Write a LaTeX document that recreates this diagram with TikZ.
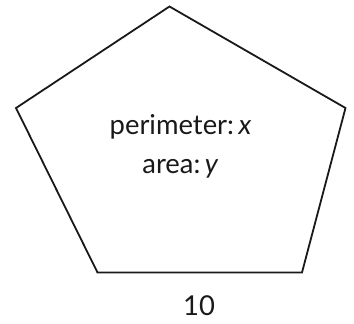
\documentclass[tikz,border=0pt]{standalone}
\usepackage{fontspec}
\setmainfont{Lato}
\begin{document}
\begin{tikzpicture}[x=1bp,y=-1bp,
  edge/.style={draw=black!90, line width=1.8bp, line join=miter},
  lbl/.style={font=\fontsize{27.5}{33}\selectfont, text=black!90, inner sep=0pt, anchor=base}]
\useasboundingbox (0,0) rectangle (354,324);
\coordinate (t) at (169.5,6.5);
\coordinate (r) at (345.5,108);
\coordinate (br) at (302,272.5);
\coordinate (bl) at (97.5,272.5);
\coordinate (l) at (16,108);
\draw[edge] (t) -- (r) -- (br) -- (bl) -- (l) -- cycle;
\node[lbl] (p) at (180.5,134) {perimeter:\,\textit{x}};
\node[lbl] (a) at (180.5,173) {area:\,\textit{y}};
\node[lbl] (s) at (199,315) {10};
\end{tikzpicture}
\end{document}
